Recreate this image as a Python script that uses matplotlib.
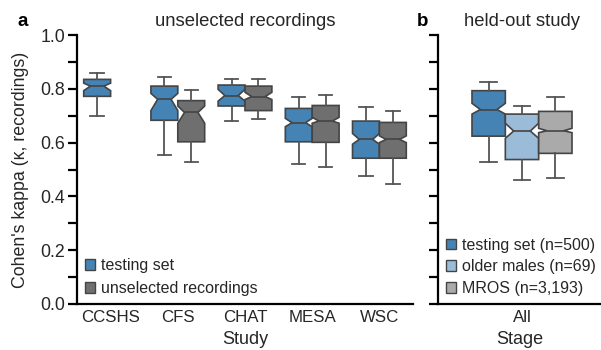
import matplotlib
matplotlib.use("Agg")
import matplotlib.pyplot as plt
from matplotlib.patches import Patch
from matplotlib.ticker import FixedLocator, FormatStrFormatter

plt.rcParams['font.family'] = ['Liberation Sans', 'DejaVu Sans']

# ---------------- data ----------------
studies = ["CCSHS", "CFS", "CHAT", "MESA", "WSC"]
# each: whislo, q1, cilo, med, cihi, q3, whishi
testing_stats = [
    [0.698, 0.772, 0.793, 0.810, 0.821, 0.835, 0.860],
    [0.554, 0.683, 0.719, 0.761, 0.783, 0.810, 0.844],
    [0.679, 0.736, 0.754, 0.775, 0.798, 0.814, 0.838],
    [0.520, 0.603, 0.659, 0.674, 0.690, 0.727, 0.771],
    [0.477, 0.542, 0.594, 0.612, 0.634, 0.680, 0.734],
]
unselected_stats = [
    None,
    [0.528, 0.603, 0.672, 0.712, 0.736, 0.756, 0.796],
    [0.687, 0.719, 0.760, 0.771, 0.787, 0.810, 0.835],
    [0.510, 0.601, 0.672, 0.680, 0.694, 0.738, 0.777],
    [0.445, 0.542, 0.600, 0.612, 0.625, 0.675, 0.719],
]
heldout_labels = ["testing set (n=500)", "older males (n=69)", "MROS (n=3,193)"]
heldout_stats = [
    [0.527, 0.624, 0.706, 0.723, 0.746, 0.793, 0.826],
    [0.461, 0.537, 0.616, 0.643, 0.672, 0.706, 0.737],
    [0.469, 0.560, 0.637, 0.644, 0.653, 0.716, 0.768],
]
legend_a = ["testing set", "unselected recordings"]
yticks_major = [0.0, 0.2, 0.4, 0.6, 0.8, 1.0]
yticks_minor = [0.1, 0.3, 0.5, 0.7, 0.9]

c_test = "#4583B5"
c_unsel = "#6F6F6F"
c_old = "#9BBCD8"
c_mros = "#AAAAAA"
edge = "#444444"


def to_dict(s):
    return dict(whislo=s[0], q1=s[1], cilo=s[2], med=s[3], cihi=s[4],
                q3=s[5], whishi=s[6], fliers=[])


def draw(ax, stats_list, positions, width, colors):
    st = [to_dict(s) for s in stats_list]
    res = ax.bxp(st, positions=positions, widths=width, shownotches=True,
                 patch_artist=True, showfliers=False, manage_ticks=False,
                 boxprops=dict(edgecolor=edge, linewidth=1.2),
                 whiskerprops=dict(color="#555555", linewidth=1.3),
                 capprops=dict(color="#555555", linewidth=1.3),
                 medianprops=dict(color=edge, linewidth=1.2))
    for b, c in zip(res['boxes'], colors):
        b.set_facecolor(c)


fig = plt.figure(figsize=(6.01, 3.5), dpi=100)
axa = fig.add_axes([77 / 601, 1 - 304 / 350, (413 - 77) / 601, (304 - 35) / 350])
axb = fig.add_axes([437.7 / 601, 1 - 304 / 350, (601 - 437.7) / 601, (304 - 35) / 350])

# panel a
for i, (t, u) in enumerate(zip(testing_stats, unselected_stats)):
    draw(axa, [t], [i - 0.2], 0.4, [c_test])
    if u is not None:
        draw(axa, [u], [i + 0.2], 0.4, [c_unsel])
axa.set_xlim(-0.5, 4.5)
axa.set_xticks(range(len(studies)))
axa.set_xticklabels(studies)

# panel b
bw = 0.8 / 3
draw(axb, heldout_stats, [-bw, 0, bw], bw, [c_test, c_old, c_mros])
axb.set_xlim(-84.3 / 125, (601 - 522) / 125)
axb.set_xticks([0])
axb.set_xticklabels(["All"])

for ax in (axa, axb):
    ax.set_ylim(0, 1.0)
    ax.yaxis.set_major_locator(FixedLocator(yticks_major))
    ax.yaxis.set_minor_locator(FixedLocator(yticks_minor))
    ax.yaxis.set_major_formatter(FormatStrFormatter('%.1f'))
    for s in ("top", "right"):
        ax.spines[s].set_visible(False)
    for s in ("left", "bottom"):
        ax.spines[s].set_linewidth(1.6)
        ax.spines[s].set_color("black")
    ax.tick_params(axis='y', which='both', length=6.5, width=1.6, direction='out',
                   labelsize=12.8, pad=2, colors='black', labelcolor='#262626')
    ax.tick_params(axis='x', length=0, labelsize=12.2, pad=4, labelcolor='#262626')
    ax.set_facecolor("white")

axb.tick_params(axis='y', which='both', labelleft=False)

axa.set_ylabel("Cohen's kappa (κ, recordings)", fontsize=12.8, color='#262626', labelpad=8)
axa.set_xlabel("Study", fontsize=13, color='#262626', labelpad=5)
axb.set_xlabel("Stage", fontsize=13, color='#262626', labelpad=5)

fig.text(245 / 601, 1 - 22 / 350, "unselected recordings", fontsize=13.3,
         ha='center', va='center', color='#262626')
fig.text(522 / 601, 1 - 22 / 350, "held-out study", fontsize=13.3,
         ha='center', va='center', color='#262626')
fig.text(22.5 / 601, 1 - 22 / 350, "a", fontsize=13.5, fontweight='bold',
         ha='center', va='center')
fig.text(422.5 / 601, 1 - 22 / 350, "b", fontsize=13.5, fontweight='bold',
         ha='center', va='center')

ha = [Patch(facecolor=c_test, edgecolor=edge, linewidth=1),
      Patch(facecolor=c_unsel, edgecolor=edge, linewidth=1)]
axa.legend(ha, legend_a, loc='lower left', bbox_to_anchor=(0.0, 0.0),
           frameon=False, fontsize=11.5, handlelength=0.65, handleheight=0.65,
           handletextpad=0.35, labelspacing=0.48, borderaxespad=0.2,
           borderpad=0.3, labelcolor='#262626')
hb = [Patch(facecolor=c, edgecolor=edge, linewidth=1) for c in (c_test, c_old, c_mros)]
axb.legend(hb, heldout_labels, loc='lower left', bbox_to_anchor=(0.0, 0.0),
           frameon=False, fontsize=11.5, handlelength=0.65, handleheight=0.65,
           handletextpad=0.35, labelspacing=0.42, borderaxespad=0.2,
           borderpad=0.3, labelcolor='#262626')

fig.savefig("out.png", dpi=100, facecolor='white')
